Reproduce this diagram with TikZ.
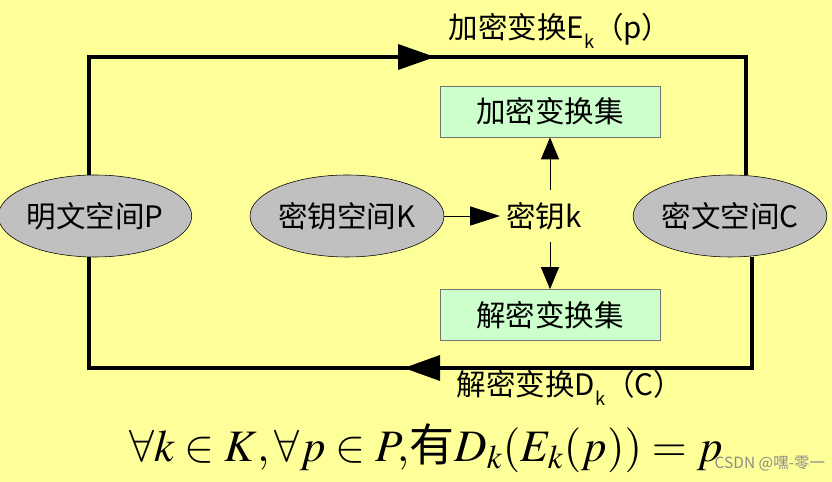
\documentclass[tikz,border=0pt]{standalone}
\usepackage{mathptmx}
\usepackage{fontspec}
\usepackage{xcolor}
\usepackage{tikz}
\usetikzlibrary{shapes,arrows.meta}
\newfontfamily\cjk{Noto Sans CJK SC}
\definecolor{paper}{RGB}{255,255,153}
\definecolor{spacegray}{RGB}{192,192,192}
\definecolor{mint}{RGB}{204,255,204}
\newcommand{\lowk}{\raisebox{-0.35em}{\fontsize{13}{13}\selectfont k}}

\begin{document}
\begin{tikzpicture}[
    spacenode/.style={ellipse, draw, thin, fill=spacegray, minimum width=4.65cm, minimum height=2.05cm, inner sep=0pt, font=\cjk\fontsize{21}{21}\selectfont},
    transbox/.style={rectangle, draw=black!55, thin, fill=mint, minimum width=5.5cm, minimum height=1.275cm, font=\cjk\fontsize{21}{21}\selectfont},
    labeltext/.style={font=\cjk\fontsize{21}{21}\selectfont},
    loopline/.style={line width=2.8pt},
    harrow/.style={line width=0.7pt, -{Triangle[length=0.75cm,width=0.48cm]}},
    varrow/.style={line width=0.7pt, -{Triangle[length=0.55cm,width=0.45cm]}}
]
    \path[use as bounding box, fill=paper] (0,0) rectangle (20.8,-12.05);

    % Spaces
    \node[spacenode] (P) at (2.375,-5.4) {明文空间P};
    \node[spacenode] (K) at (8.675,-5.4) {密钥空间K};
    \node[spacenode] (C) at (18.25,-5.4) {密文空间C};

    % Key and transform sets
    \node[labeltext, anchor=west, inner xsep=0.15cm, inner ysep=0.3cm] (key) at (12.5,-5.4) {密钥k};
    \node[transbox] (enc) at (13.75,-2.79) {加密变换集};
    \node[transbox] (dec) at (13.75,-7.875) {解密变换集};

    \draw[harrow] (K.east) -- (key.west);
    \draw[varrow] (key.north -| enc.south) -- (enc.south);
    \draw[varrow] (key.south -| dec.north) -- (dec.north);

    % Loop between plaintext and ciphertext
    \coordinate (tl) at (2.225,-1.425);
    \coordinate (tr) at (18.65,-1.425);
    \coordinate (bl) at (2.225,-9.2);
    \coordinate (br) at (18.8,-9.2);
    \draw[loopline] (P.north -| tl) -- (tl) -- (tr) -- (C.north -| tr);
    \draw[loopline] (C.south -| br) -- (br) -- (bl) -- (P.south -| bl);
    \fill (9.95,-1.1) -- (10.875,-1.425) -- (9.95,-1.75) -- cycle;
    \fill (11.0,-8.875) -- (10.1,-9.2) -- (11.0,-9.525) -- cycle;

    % Labels
    \node[labeltext] (enclabel) at (14.0,-0.775) {加密变换E\lowk（p）};
    \node[labeltext] (declabel) at (14.25,-9.7) {解密变换D\lowk（C）};

    \node[font=\fontsize{32}{34}\selectfont] (rule) at (10.65,-11.2) {$\forall k\in K,\forall p\in P,${\cjk 有}$D_k(E_k(p))=p$};
    \node[text=black!45, anchor=east, font=\cjk\fontsize{11}{11}\selectfont] (mark) at (20.75,-11.6) {CSDN @嘿-零一};
\end{tikzpicture}
\end{document}
